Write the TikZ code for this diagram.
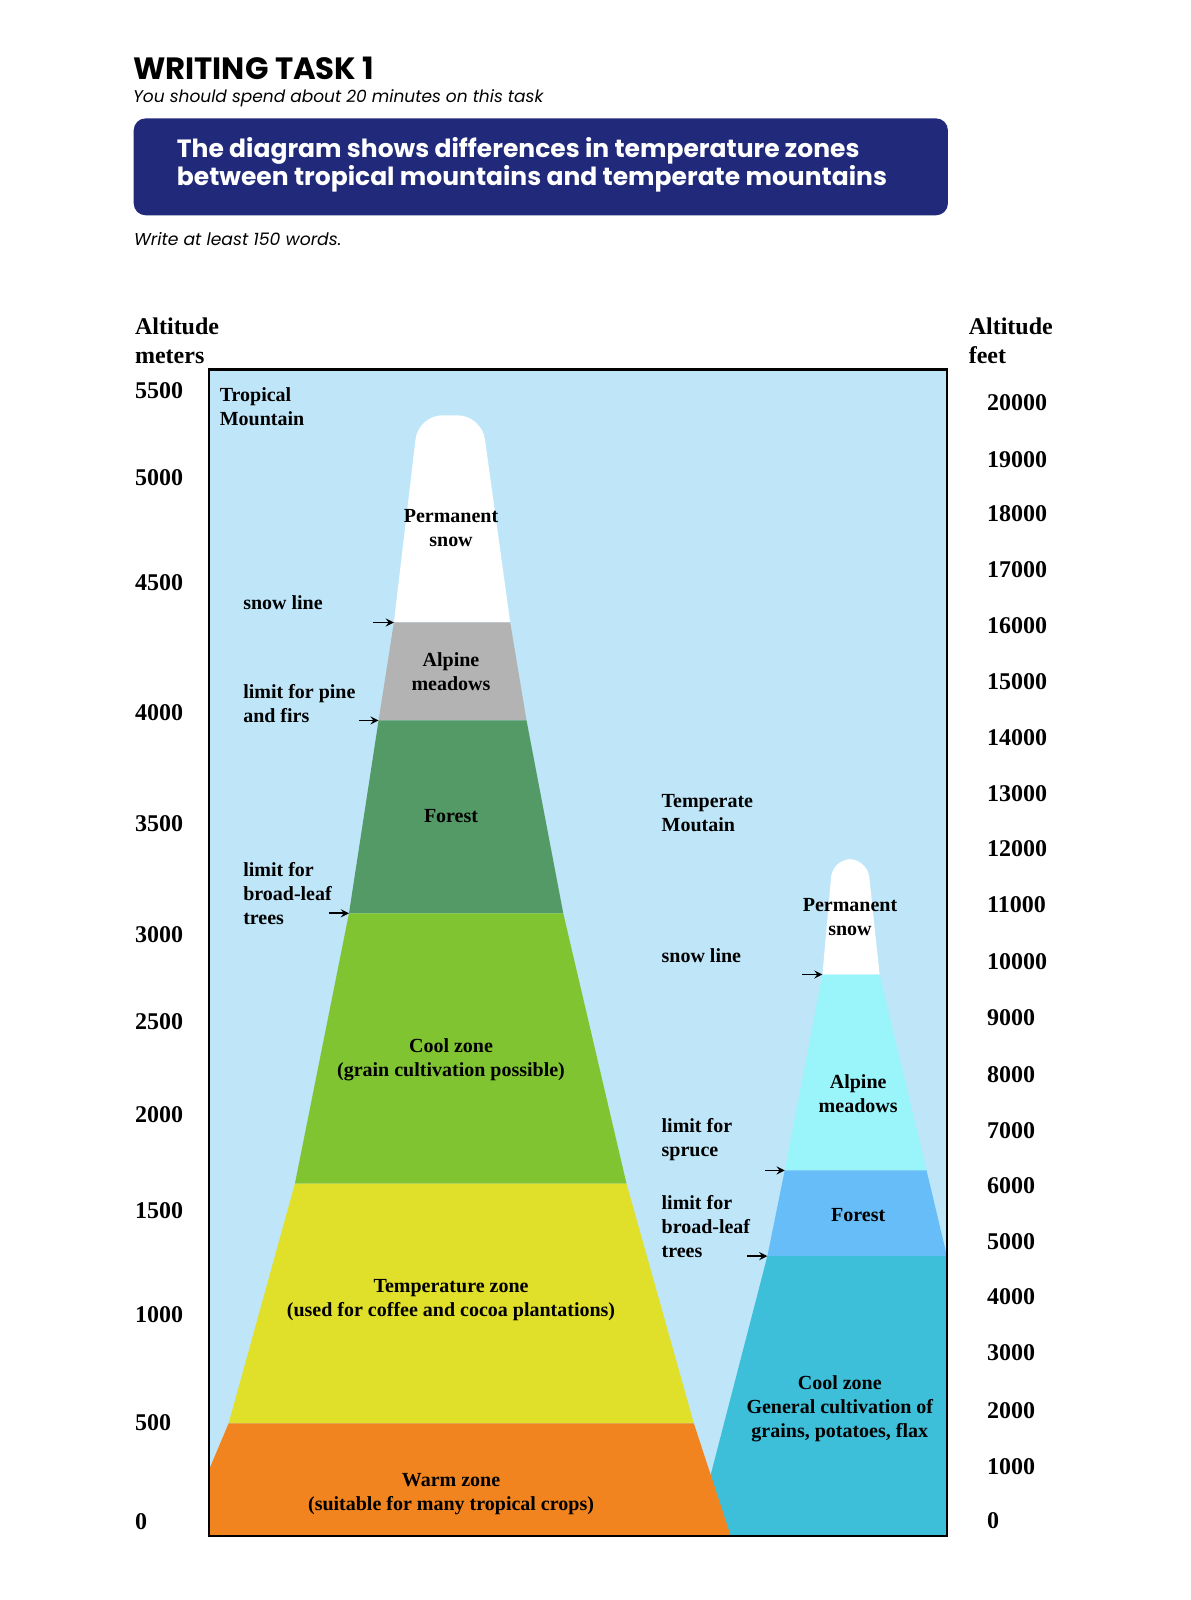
\documentclass[tikz,border=0pt]{standalone}
\usepackage{fontspec}
\setmainfont{Liberation Serif}
\newfontfamily\popfont{Poppins}
\usepackage{tikz}
\usetikzlibrary{positioning, arrows}

\definecolor{sky}{HTML}{BEE6F8}
\definecolor{navy}{HTML}{20297A}
\definecolor{meadowgray}{HTML}{B3B3B3}
\definecolor{forestgreen}{HTML}{539A66}
\definecolor{coolgreen}{HTML}{80C432}
\definecolor{tempyellow}{HTML}{E0DF2A}
\definecolor{warmorange}{HTML}{F2841F}
\definecolor{tmeadow}{HTML}{9AF5FB}
\definecolor{tforest}{HTML}{66BDF7}
\definecolor{tcool}{HTML}{3EBFD9}

\tikzstyle{zonelbl} = [font=\bfseries\fontsize{10}{12}\selectfont, align=center, text centered, inner sep=0pt]
\tikzstyle{sidelbl} = [font=\bfseries\fontsize{10}{12}\selectfont, align=left, anchor=west, inner sep=0pt]
\tikzstyle{axisnum} = [font=\bfseries\fontsize{12}{14.5}\selectfont, align=left, anchor=west, inner sep=0pt]
\tikzstyle{arrow} = [->,>=stealth, line width=0.8pt]

\begin{document}
\begin{tikzpicture}[x=0.5103pt, y=-0.5103pt]
\useasboundingbox (0,0) rectangle (1167,1568);

% header
\node (title) [anchor=west, inner sep=0pt, font=\popfont\bfseries\fontsize{15.4}{18}\selectfont] at (130,67) {WRITING TASK 1};
\node (subtitle) [anchor=west, inner sep=0pt, font=\popfont\itshape\fontsize{8.5}{10}\selectfont] at (130,96) {You should spend about 20 minutes on this task};
\fill [navy, rounded corners=6pt] (131,116) rectangle (929,211);
\node (question) [anchor=west, inner sep=0pt, align=left, text=white, font=\popfont\bfseries\fontsize{12.5}{13.8}\selectfont] at (173,161.5) {The diagram shows differences in temperature zones\\between tropical mountains and temperate mountains};
\node (words) [anchor=west, inner sep=0pt, font=\popfont\itshape\fontsize{8.6}{10}\selectfont] at (131,234) {Write at least 150 words.};

% axes
\node (mtitle) [axisnum] at (132,333.5) {Altitude\\meters};
\node (ftitle) [axisnum] at (949,333.5) {Altitude\\feet};
\foreach \val/\ypos in {5500/383, 5000/468, 4500/571, 4000/698, 3500/807, 3000/916, 2500/1001, 2000/1092, 1500/1186, 1000/1288, 500/1394, 0/1491}
  \node (m\val) [axisnum] at (132,\ypos) {\val};
\foreach \val/\ypos in {20000/395, 19000/450, 18000/503, 17000/558, 16000/613, 15000/668, 14000/723, 13000/778, 12000/832, 11000/887, 10000/942, 9000/997, 8000/1053, 7000/1108, 6000/1162, 5000/1217, 4000/1271, 3000/1326, 2000/1382, 1000/1437, 0/1490}
  \node (f\val) [axisnum] at (967,\ypos) {\val};

\fill [sky] (205,362) rectangle (928,1505);

% temperate mountain
\fill [white] (806,955) [rounded corners=9] -- (816,842) -- (850,842) [sharp corners] -- (862,955) -- cycle;
\fill [tmeadow] (806,955) -- (862,955) -- (908,1147) -- (769,1147) -- cycle;
\fill [tforest] (769,1147) -- (908,1147) -- (928,1231) -- (752,1231) -- cycle;
\fill [tcool] (752,1231) -- (928,1231) -- (928,1505) -- (681,1505) -- cycle;

% tropical mountain
\fill [white] (386,610) [rounded corners=12] -- (410,407) -- (472,407) [sharp corners] -- (500,610) -- cycle;
\fill [meadowgray] (386,610) -- (500,610) -- (516,706) -- (371,706) -- cycle;
\fill [forestgreen] (371,706) -- (516,706) -- (552,895) -- (342,895) -- cycle;
\fill [coolgreen] (342,895) -- (552,895) -- (614,1160) -- (289,1160) -- cycle;
\fill [tempyellow] (289,1160) -- (614,1160) -- (680,1395) -- (224,1395) -- cycle;
\fill [warmorange] (224,1395) -- (680,1395) -- (716,1505) -- (205,1505) -- (205,1440) -- cycle;

\draw [line width=1.2pt] (205,362) rectangle (928,1505);

% tropical labels
\node (tropical) [sidelbl] at (215,399) {Tropical\\Mountain};
\node (snow) [zonelbl] at (442,517) {Permanent\\snow};
\node (alpine) [zonelbl] at (442,658.5) {Alpine\\meadows};
\node (forest) [zonelbl] at (442,800) {Forest};
\node (cool) [zonelbl] at (442,1038.5) {Cool zone\\(grain cultivation possible)};
\node (temperature) [zonelbl] at (442,1274) {Temperature zone\\(used for coffee and cocoa plantations)};
\node (warm) [zonelbl] at (442,1464) {Warm zone\\(suitable for many tropical crops)};
\node (snowline) [sidelbl] at (238,591) {snow line};
\node (pinelimit) [sidelbl] at (238,689) {limit for pine\\and firs};
\node (broadlimit) [sidelbl] at (238,876) {limit for\\broad-leaf\\trees};

% temperate labels
\node (temperate) [sidelbl] at (648,797) {Temperate\\Moutain};
\node (tsnow) [zonelbl] at (833,898.5) {Permanent\\snow};
\node (talpine) [zonelbl] at (841,1072) {Alpine\\meadows};
\node (tforestlbl) [zonelbl] at (841,1191) {Forest};
\node (tcoollbl) [zonelbl] at (823,1381) {Cool zone\\General cultivation of\\grains, potatoes, flax};
\node (tsnowline) [sidelbl] at (648,937) {snow line};
\node (sprucelimit) [sidelbl] at (648,1117) {limit for\\spruce};
\node (tbroadlimit) [sidelbl] at (648,1202) {limit for\\broad-leaf\\trees};

% limit markers
\coordinate (snowA) at (366,610);   \coordinate (snowB) at (386,610);
\coordinate (pineA) at (352,706);   \coordinate (pineB) at (371,706);
\coordinate (broadA) at (322,895);  \coordinate (broadB) at (342,895);
\coordinate (tsnowA) at (786,955);  \coordinate (tsnowB) at (806,955);
\coordinate (spruceA) at (750,1147); \coordinate (spruceB) at (769,1147);
\coordinate (tbroadA) at (732,1231); \coordinate (tbroadB) at (752,1231);
\draw [arrow] (snowA) -- (snowB);
\draw [arrow] (pineA) -- (pineB);
\draw [arrow] (broadA) -- (broadB);
\draw [arrow] (tsnowA) -- (tsnowB);
\draw [arrow] (spruceA) -- (spruceB);
\draw [arrow] (tbroadA) -- (tbroadB);

\end{tikzpicture}
\end{document}
